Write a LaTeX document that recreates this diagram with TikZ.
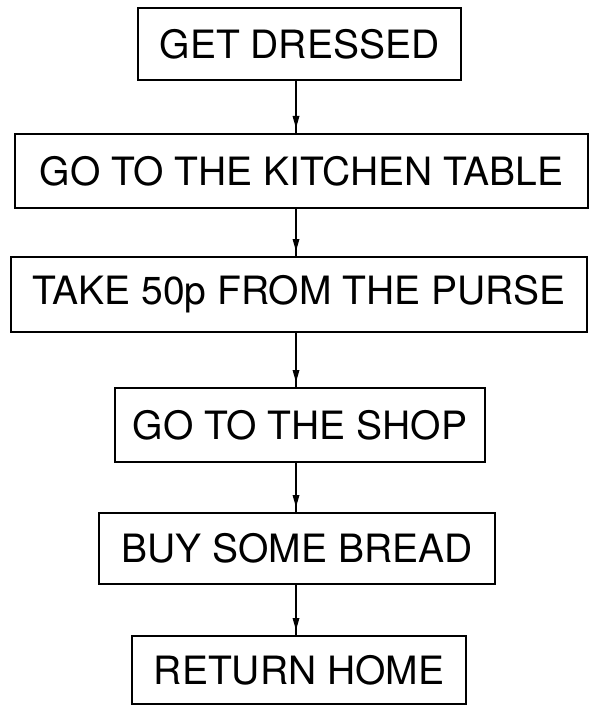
\documentclass[tikz,border=0pt]{standalone}
\usepackage{fontspec}
\setmainfont{TeX Gyre Heros}
\usetikzlibrary{decorations.markings}

\begin{document}
\begin{tikzpicture}[
                x = 1pt, y = -1pt,
                stepbox/.style={ rectangle, draw = black, line width = 2pt, inner sep = 0pt,
                                 font = \fontsize{39}{39}\selectfont },
                flow/.style={ line width = 2pt, postaction = {decorate},
                              decoration = {markings, mark = at position -5pt with
                                  {\fill (0pt, 0pt) -- (-12pt, 3.5pt) -- (-12pt, -3.5pt) -- cycle;}} }
            ]
            \useasboundingbox (0, 0) rectangle (604, 719);

            \node (dress)   [stepbox, minimum width=323pt, minimum height=72pt] at (299.5, 44)  {GET DRESSED};
            \node (kitchen) [stepbox, minimum width=573pt, minimum height=74pt] at (301.5, 171) {GO TO THE KITCHEN TABLE};
            \node (purse)   [stepbox, minimum width=576pt, minimum height=75pt] at (299, 294.5) {TAKE 50p FROM THE PURSE};
            \node (shop)    [stepbox, minimum width=370pt, minimum height=74pt] at (300, 425)   {GO TO THE SHOP};
            \node (bread)   [stepbox, minimum width=396pt, minimum height=71pt] at (297, 548.5) {BUY SOME BREAD};
            \node (home)    [stepbox, minimum width=334pt, minimum height=68pt] at (299, 670)   {RETURN HOME};

            \coordinate (x) at (296, 0);
            \draw [flow] (dress.south -| x)   -- (kitchen.north -| x);
            \draw [flow] (kitchen.south -| x) -- (purse.north -| x);
            \draw [flow] (purse.south -| x)   -- (shop.north -| x);
            \draw [flow] (shop.south -| x)    -- (bread.north -| x);
            \draw [flow] (bread.south -| x)   -- (home.north -| x);
        \end{tikzpicture}
\end{document}
